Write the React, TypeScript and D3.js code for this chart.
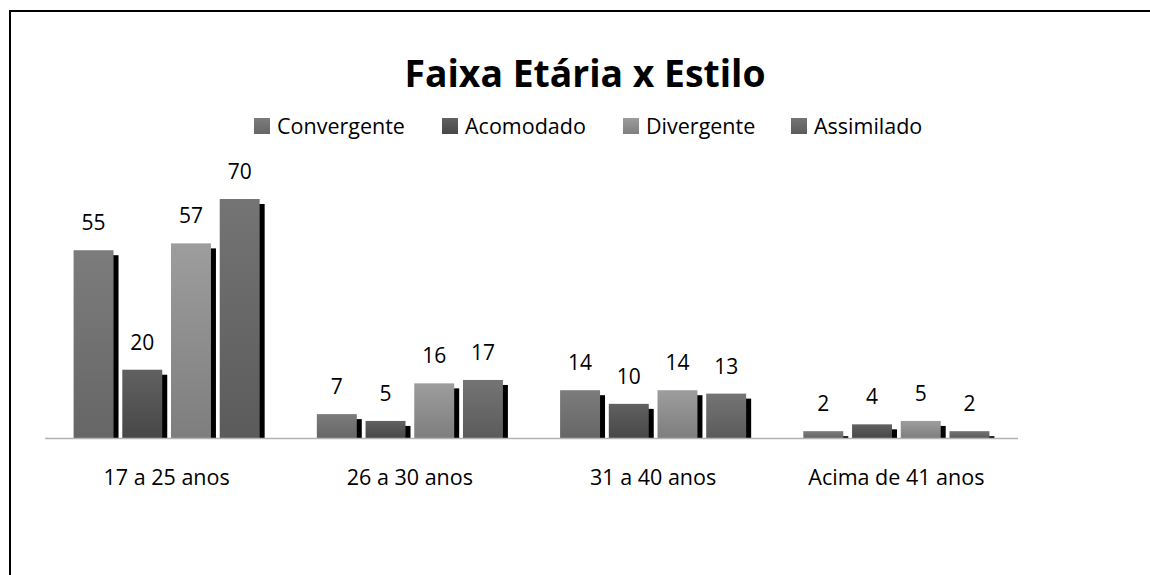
import React, { useEffect, useRef } from 'react';
import * as d3 from 'd3';

const categories = ['17 a 25 anos', '26 a 30 anos', '31 a 40 anos', 'Acima de 41 anos'];
const series = ['Convergente', 'Acomodado', 'Divergente', 'Assimilado'];
const convergente = [55, 7, 14, 2];
const acomodado = [20, 5, 10, 4];
const divergente = [57, 16, 14, 5];
const assimilado = [70, 17, 13, 2];
const seriesValues = [convergente, acomodado, divergente, assimilado];
// top / bottom of each bar's vertical gradient
const gradTop = ['#7c7c7c', '#616161', '#9d9d9d', '#747474'];
const gradBottom = ['#666666', '#474747', '#7e7e7e', '#5b5b5b'];

const FONT = '"Open Sans", Lato, sans-serif';

const App: React.FC = () => {
  const ref = useRef<SVGSVGElement>(null);

  useEffect(() => {
    const svg = d3.select(ref.current);
    svg.selectAll('*').remove();

    const defs = svg.append('defs');
    series.forEach((s, i) => {
      const lg = defs.append('linearGradient')
        .attr('id', `grad${i}`)
        .attr('x1', 0).attr('y1', 0).attr('x2', 0).attr('y2', 1);
      lg.append('stop').attr('offset', '0%').attr('stop-color', gradTop[i]);
      lg.append('stop').attr('offset', '100%').attr('stop-color', gradBottom[i]);
    });

    // frame (runs off the right and bottom edges)
    svg.append('rect')
      .attr('x', 10).attr('y', 11)
      .attr('width', 1200).attr('height', 700)
      .attr('fill', 'none').attr('stroke', '#000').attr('stroke-width', 2);

    const x0 = d3.scaleBand().domain(categories).range([45, 1018]);
    const x1 = d3.scaleBand().domain(series).range([0, x0.bandwidth()])
      .paddingInner(0.18).paddingOuter(0.587);
    const y = d3.scaleLinear().domain([0, 70]).range([438, 199]);

    svg.append('text')
      .attr('x', 585).attr('y', 87)
      .attr('text-anchor', 'middle')
      .attr('font-family', FONT).attr('font-weight', 'bold').attr('font-size', 37.3)
      .text('Faixa Etária x Estilo');

    // legend
    const legendX = [254, 442, 623, 791];
    series.forEach((s, i) => {
      const g = svg.append('g').attr('transform', `translate(${legendX[i]},118)`);
      g.append('rect').attr('width', 16).attr('height', 16).attr('fill', `url(#grad${i})`);
      g.append('text').attr('x', 23).attr('y', 16)
        .attr('font-family', FONT).attr('font-size', 21.5).attr('fill', '#000')
        .text(s);
    });

    const groups = svg.selectAll('.grp')
      .data(categories)
      .enter().append('g')
      .attr('class', 'grp')
      .attr('transform', d => `translate(${x0(d)},0)`);

    groups.each(function (_c, ci) {
      const g = d3.select(this);
      series.forEach((s, si) => {
        const v = seriesValues[si][ci];
        const bx = x1(s) ?? 0;
        const bw = x1.bandwidth();
        // drop shadow
        const sy = Math.min(y(v) + 5, y(0));
        g.append('rect')
          .attr('x', bx + 5).attr('y', sy)
          .attr('width', bw).attr('height', y(0) - sy)
          .attr('fill', '#000');
        g.append('rect')
          .attr('x', bx).attr('y', y(v))
          .attr('width', bw).attr('height', y(0) - y(v))
          .attr('fill', `url(#grad${si})`);
        g.append('text')
          .attr('x', bx + bw / 2).attr('y', y(v) - 20)
          .attr('text-anchor', 'middle')
          .attr('font-family', FONT).attr('font-size', 21)
          .text(v);
      });
    });

    // baseline
    svg.append('line')
      .attr('x1', 45).attr('x2', 1018)
      .attr('y1', y(0) + 0.5).attr('y2', y(0) + 0.5)
      .attr('stroke', '#b3b3b3').attr('stroke-width', 1.5);

    svg.selectAll('.cat')
      .data(categories)
      .enter().append('text')
      .attr('class', 'cat')
      .attr('x', d => (x0(d) ?? 0) + x0.bandwidth() / 2)
      .attr('y', 485)
      .attr('text-anchor', 'middle')
      .attr('font-family', FONT).attr('font-size', 21.5)
      .text(d => d);
  }, []);

  return (
    <svg ref={ref} width={1150} height={575}
      style={{ position: 'absolute', left: 0, top: 0, background: '#fff' }} />
  );
};

export default App;
